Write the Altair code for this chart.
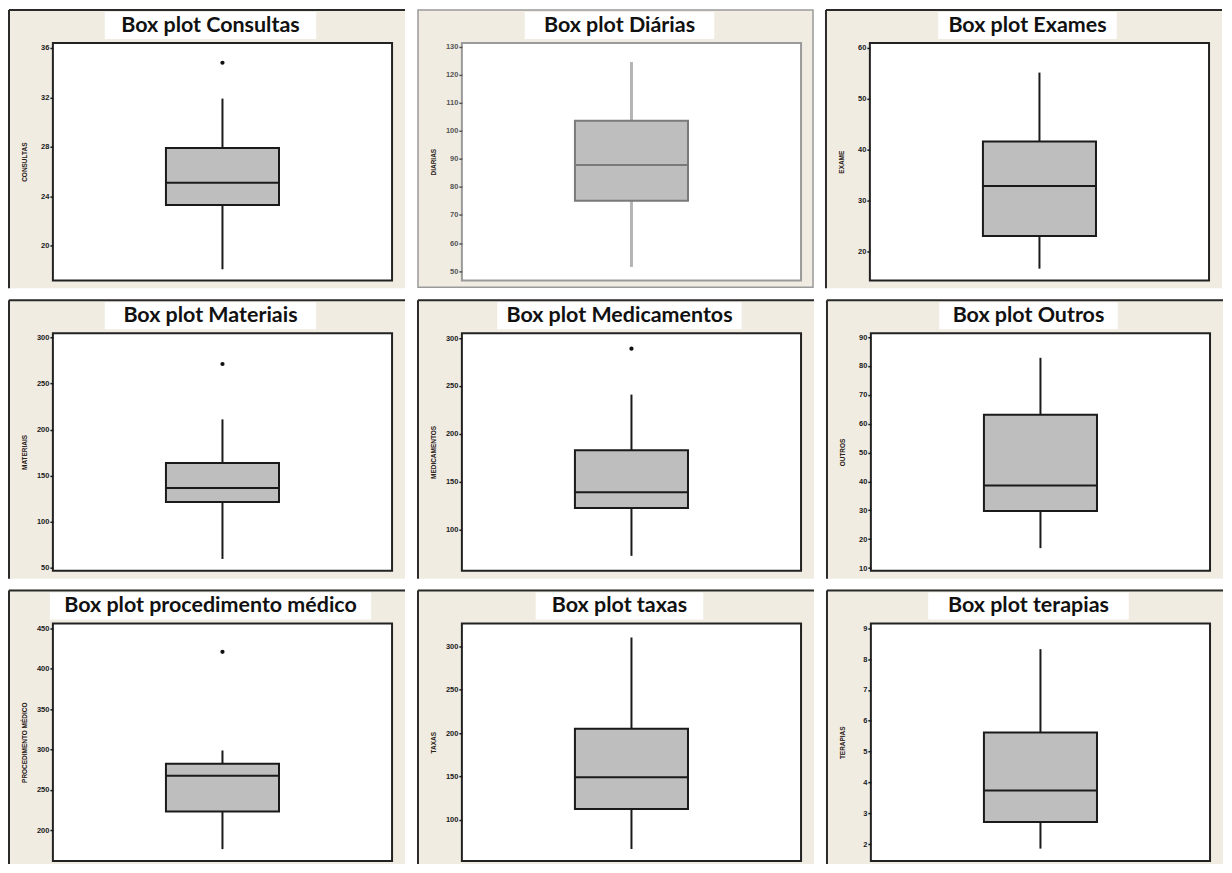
import altair as alt
import pandas as pd

# ---- data ----
names = ["Consultas", "Diárias", "Exames", "Materiais", "Medicamentos", "Outros",
         "procedimento médico", "taxas", "terapias"]
axis_titles = ["CONSULTAS", "DIARIAS", "EXAME", "MATERIAIS", "MEDICAMENTOS", "OUTROS",
               "PROCEDIMENTO MÉDICO", "TAXAS", "TERAPIAS"]
whisker_low = [18.1, 51.5, 16.7, 59.8, 72.2, 16.9, 176.7, 66.3, 1.86]
q1 = [23.3, 75.1, 23.1, 121.4, 122.4, 29.8, 223.3, 112.3, 2.72]
median = [25.1, 87.8, 32.9, 136.6, 138.9, 38.6, 267.4, 149.0, 3.74]
q3 = [27.9, 103.6, 41.6, 163.8, 182.8, 63.1, 282.5, 205.0, 5.62]
whisker_high = [31.9, 124.5, 55.1, 211.0, 241.0, 82.8, 298.8, 310.3, 8.32]
outliers = [34.8, None, None, 271.0, 289.0, None, 421.0, None, None]
axis_min = [17.2, 46.7, 14.4, 47.1, 56.7, 9.1, 162.0, 52.5, 1.46]
axis_max = [36.4, 131.3, 60.9, 304.3, 305.2, 91.3, 456.0, 326.4, 9.15]
tick_values = [
    [20, 24, 28, 32, 36],
    [50, 60, 70, 80, 90, 100, 110, 120, 130],
    [20, 30, 40, 50, 60],
    [50, 100, 150, 200, 250, 300],
    [100, 150, 200, 250, 300],
    [10, 20, 30, 40, 50, 60, 70, 80, 90],
    [200, 250, 300, 350, 400, 450],
    [100, 150, 200, 250, 300],
    [2, 3, 4, 5, 6, 7, 8, 9],
]

# ---- styling ----
W, H = 340, 238
LEFT, RIGHT, TOP = 45, 13, 34
BEIGE = "#F0ECE2"


def panel(i, bottom):
    faded = (i == 1)
    line = "#7a7a7a" if faded else "#1a1a1a"
    whisk_col = "#b4b4b4" if faded else "#1a1a1a"
    frame_col = "#9a9a9a" if faded else "#222222"
    lab_col = "#555555" if faded else "#1a1a1a"
    title = "Box plot " + names[i]
    row = {"var": names[i], "title": title, "lo": whisker_low[i], "q1": q1[i],
           "med": median[i], "q3": q3[i], "hi": whisker_high[i]}
    if outliers[i] is not None:
        row["out"] = outliers[i]
    df = pd.DataFrame([row])
    base = alt.Chart(df)

    yscale = alt.Scale(domain=[axis_min[i], axis_max[i]], nice=False, zero=False)
    yaxis = alt.Axis(values=tick_values[i], zindex=1, domain=False, grid=False,
                     tickSize=3, tickWidth=1.5, tickColor=lab_col,
                     labelFontSize=7.5, labelFont="Liberation Sans", labelFontWeight="bold",
                     labelColor=lab_col, labelPadding=1,
                     titleFontSize=6.5, titleFont="Liberation Sans", titleFontWeight="bold",
                     titleColor="#2a2018", titleX=-28, titleY=H / 2, titleAngle=270,
                     titleAlign="center", titleBaseline="middle")
    X = alt.X("var:N", axis=None, scale=alt.Scale(paddingOuter=1, paddingInner=0))

    def Y(field):
        return alt.Y(field, scale=yscale, axis=yaxis, title=axis_titles[i])

    layers = []
    if faded:
        layers.append(base.mark_rect(fill=BEIGE, stroke="#9a9a9a", strokeWidth=1.5).encode(
            x=alt.value(-LEFT + 1), x2=alt.value(W + RIGHT - 1),
            y=alt.value(-TOP + 1), y2=alt.value(H + bottom - 1)))
    else:
        layers.append(base.mark_rect(fill=BEIGE).encode(
            x=alt.value(-LEFT), x2=alt.value(W + RIGHT),
            y=alt.value(-TOP), y2=alt.value(H + bottom)))
        layers.append(base.mark_rule(color="#2a2a2a", strokeWidth=2).encode(
            x=alt.value(-LEFT + 1), x2=alt.value(W + RIGHT),
            y=alt.value(-TOP + 1)))
        layers.append(base.mark_rule(color="#2a2a2a", strokeWidth=2).encode(
            x=alt.value(-LEFT + 1),
            y=alt.value(-TOP + 1), y2=alt.value(H + bottom)))

    cx = W / 2 - 12
    tw = len(title) * 11.0 + 14
    layers.append(base.mark_rect(fill="white").encode(
        x=alt.value(cx - tw / 2), x2=alt.value(cx + tw / 2),
        y=alt.value(-TOP + 3), y2=alt.value(-4)))
    layers.append(base.mark_text(font="Lato", fontWeight="bold", fontSize=21.5,
                                 color="#111111", align="center", baseline="middle").encode(
        x=alt.value(cx), y=alt.value(-17.5), text="title:N"))
    layers.append(base.mark_rect(fill="white", stroke=frame_col, strokeWidth=2).encode(
        x=alt.value(0), x2=alt.value(W), y=alt.value(0), y2=alt.value(H)))

    layers.append(base.mark_rule(color=whisk_col, strokeWidth=3 if faded else 2,
                                 opacity=1).encode(x=X, y=Y("lo:Q"), y2="hi:Q"))
    layers.append(base.mark_bar(fill="#BEBEBE", stroke=line, strokeWidth=2, opacity=1).encode(
        x=X, y=Y("q1:Q"), y2="q3:Q"))
    layers.append(base.mark_tick(color=line, thickness=2, size=W / 3, opacity=1).encode(
        x=X, y=Y("med:Q")))
    if outliers[i] is not None:
        layers.append(base.mark_point(filled=True, size=18, color="#111111", opacity=1).encode(
            x=X, y=Y("out:Q")))

    return alt.layer(*layers).properties(width=W, height=H)


rows = []
for r in range(3):
    bottom = 3 if r == 2 else 8
    rows.append(alt.hconcat(*[panel(r * 3 + c, bottom) for c in range(3)], spacing=11))

chart = alt.vconcat(*rows, spacing=10).properties(padding=0, background="white").configure_view(
    strokeWidth=0)

chart.save("out.html", embed_options={"renderer": "svg", "actions": False})
